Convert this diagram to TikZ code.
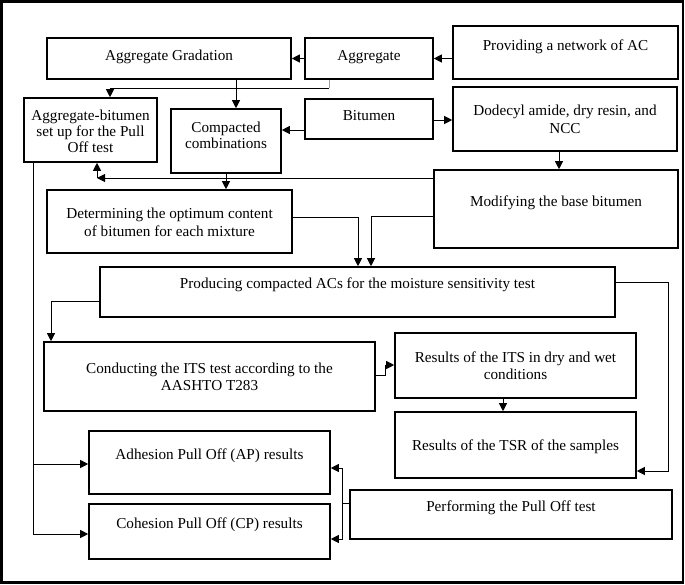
\documentclass[tikz,border=0pt]{standalone}
\usepackage{fontspec}
\setmainfont{Liberation Serif}
\usetikzlibrary{arrows.meta,fit}
\newcommand{\fsz}{\fontsize{15.2}{17}\selectfont}
\newcommand{\mlines}[2]{\fontsize{15.2}{#1}\selectfont\begin{tabular}[t]{@{}c@{}}#2\end{tabular}}
\definecolor{stubcol}{RGB}{232,140,70}
\begin{document}
\begin{tikzpicture}[x=1pt,y=-1pt,
  box/.style={draw, line width=1.6pt, inner sep=0pt},
  txt/.style={font=\fsz, inner sep=0pt, anchor=base},
  conn/.style={line width=1pt},
  arr/.style={conn, -{Triangle[length=8pt,width=8pt]}}]
\useasboundingbox (0,0) rectangle (685,584);
\draw[line width=2.2pt] (1.5,1.5) rectangle (683,582.5);
% boxes
\node[box, fit={(47,38) (291,79)}] (ag) {};
\node[box, fit={(305,38) (433,79)}] (agg) {};
\node[box, fit={(453,26) (678,79)}] (prov) {};
\node[box, fit={(24,98) (157,162)}] (abs) {};
\node[box, fit={(171,109) (281,173)}] (comp) {};
\node[box, fit={(305,99) (433,139)}] (bit) {};
\node[box, fit={(453,87) (677,151)}] (dod) {};
\node[box, fit={(434,170) (678,248)}] (mod) {};
\node[box, fit={(47,190) (292,253)}] (det) {};
\node[box, fit={(100,267) (615,317)}] (prod) {};
\node[box, fit={(44,342) (375,411)}] (cond) {};
\node[box, fit={(395,333) (636,398)}] (rits) {};
\node[box, fit={(395,412) (636,478)}] (tsr) {};
\node[box, fit={(89,431) (330,494)}] (adh) {};
\node[box, fit={(89,504) (330,559)}] (coh) {};
\node[box, fit={(350,490) (672,539)}] (perf) {};
% texts
\node[txt] (tag) at (169,60) {Aggregate Gradation};
\node[txt] (tagg) at (369,60) {Aggregate};
\node[txt] (tprov) at (565.5,50) {Providing a network of AC};
\node[txt] (tabs) at (90.5,120) {\mlines{16}{Aggregate-bitumen\\set up for the Pull\\Off test}};
\node[txt] (tcomp) at (226,132) {\mlines{16}{Compacted\\combinations}};
\node[txt] (tbit) at (369,120) {Bitumen};
\node[txt] (tdod) at (565,115) {\mlines{18}{Dodecyl amide, dry resin, and\\NCC}};
\node[txt] (tmod) at (556,206) {Modifying the base bitumen};
\node[txt] (tdet) at (169.5,218) {\mlines{18}{Determining the optimum content\\of bitumen for each mixture}};
\node[txt] (tprod) at (357.5,288) {Producing compacted ACs for the moisture sensitivity test};
\node[txt] (tcond) at (209.5,373) {\mlines{17}{Conducting the ITS test according to the\\AASHTO T283}};
\node[txt] (trits) at (515.5,362) {\mlines{17}{Results of the ITS in dry and wet\\conditions}};
\node[txt] (ttsr) at (515.5,450) {Results of the TSR of the samples};
\node[txt] (tadh) at (209.5,459) {Adhesion Pull Off (AP) results};
\node[txt] (tcoh) at (209.5,528) {Cohesion Pull Off (CP) results};
\node[txt] (tperf) at (511,511) {Performing the Pull Off test};
% helper coordinates
\coordinate (c1) at (329,88);
\coordinate (c2) at (110,88);
\coordinate (c3) at (236,0);
\coordinate (c4) at (0,130);
\coordinate (c5) at (0,120);
\coordinate (c6) at (559,0);
\coordinate (c7) at (97,178);
\coordinate (c8) at (358,217);
\coordinate (c8b) at (371,216);
\coordinate (c9) at (51,301);
\coordinate (c10) at (668,282);
\coordinate (c11) at (668,471);
\coordinate (c12) at (385,375);
\coordinate (c13) at (385,365);
\coordinate (c14) at (503,0);
\coordinate (c15) at (33,464);
\coordinate (c16) at (33,534);
\coordinate (c17) at (342,503);
\coordinate (c18) at (342,468);
\coordinate (c19) at (342,539);
% connectors
\draw[arr] (agg.west) -- (ag.east);
\draw[arr] (prov.west |- agg.east) -- (agg.east);
\draw[conn, stubcol] (c1 |- agg.south) -- (c1);
\draw[arr] (c1) -- (c2) -- (c2 |- abs.north);
\draw[arr] (c3 |- ag.south) -- (c3 |- comp.north);
\draw[arr] (bit.west |- c4) -- (comp.east |- c4);
\draw[arr] (bit.east |- c5) -- (dod.west |- c5);
\draw[arr] (c6 |- dod.south) -- (c6 |- mod.north);
\draw[arr] (mod.west |- c7) -- (c7);
\draw[arr] (c7) -- (c7 |- abs.south);
\draw[arr] (comp.south) -- (comp.south |- det.north);
\draw[arr] (det.east |- c8) -- (c8) -- (c8 |- prod.north);
\draw[arr] (mod.west |- c8b) -- (c8b) -- (c8b |- prod.north);
\draw[arr] (prod.west |- c9) -- (c9) -- (c9 |- cond.north);
\draw[arr] (prod.east |- c10) -- (c10) -- (c11) -- (tsr.east |- c11);
\draw[arr] (cond.east |- c12) -- (c12) -- (c13) -- (rits.west |- c13);
\draw[arr] (c14 |- rits.south) -- (c14 |- tsr.north);
\draw[arr] (c15 |- abs.south) -- (c16) -- (coh.west |- c16);
\draw[arr] (c15) -- (adh.west |- c15);
\draw[conn] (perf.west |- c17) -- (c17);
\draw[arr] (c17) -- (c18) -- (adh.east |- c18);
\draw[arr] (c17) -- (c19) -- (coh.east |- c19);
\end{tikzpicture}
\end{document}
